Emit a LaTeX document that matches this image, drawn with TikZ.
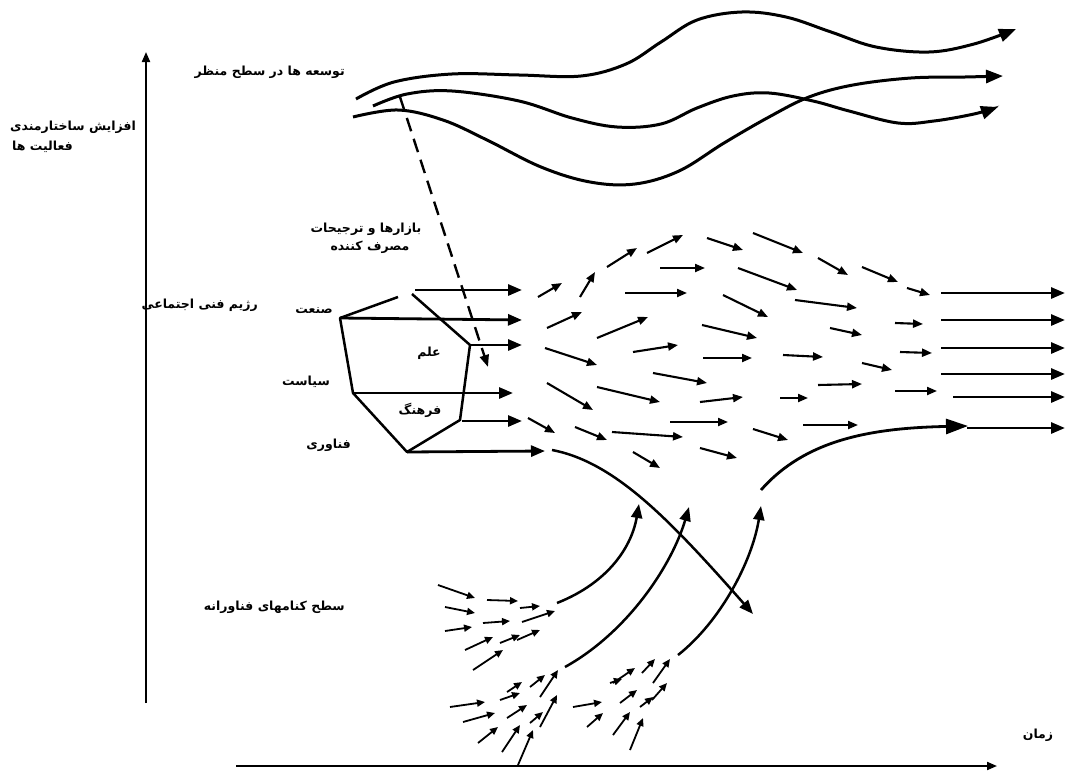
\documentclass[tikz,border=0pt]{standalone}
\usepackage{fontspec}
\usetikzlibrary{arrows.meta}
\newfontfamily\persian[Script=Arabic]{DejaVu Sans}
\TeXXeTstate=1
\begin{document}
\begin{tikzpicture}[x=1pt,y=-1pt,
 lbl/.style={font=\persian\bfseries\fontsize{12.5}{14}\selectfont, inner sep=0pt},
 axisarrow/.style={line width=2pt,-{Triangle[length=10pt,width=8pt]}},
 land/.style={line width=3pt,-{Triangle[length=17pt,width=13pt]}},
 reg/.style={line width=2.8pt,-{Triangle[length=14pt,width=11pt]}},
 fld/.style={line width=2.1pt,-{Triangle[length=10pt,width=8pt]}},
 nich/.style={line width=1.8pt,-{Triangle[length=8pt,width=7pt]}},
 ncurve/.style={line width=2.5pt,-{Triangle[length=14pt,width=11pt]}},
 poly/.style={line width=2.5pt, line join=round}]
\useasboundingbox (0,0) rectangle (1067,776);
% axes
\coordinate (va) at (146,703); \coordinate (vb) at (146,52);
\draw[axisarrow] (va) -- (vb);
\coordinate (ha) at (236,766); \coordinate (hb) at (997,766);
\draw[axisarrow] (ha) -- (hb);
% labels
\node[lbl,anchor=east] (tland) at (345,72) {\beginR توسعه ها در سطح منظر\endR};
\node[lbl,anchor=west] (tstr1) at (10,127) {\beginR افزایش ساختارمندی\endR};
\node[lbl,anchor=west] (tstr2) at (12,147) {\beginR فعالیت ها\endR};
\node[lbl] (tmar1) at (366,229) {\beginR بازارها و ترجیحات\endR};
\node[lbl] (tmar2) at (370,247) {\beginR مصرف کننده\endR};
\node[lbl,anchor=east] (treg) at (258,305) {\beginR رژیم فنی اجتماعی\endR};
\node[lbl,anchor=east] (tind) at (333,311) {\beginR صنعت\endR};
\node[lbl] (tsci) at (429,353) {\beginR علم\endR};
\node[lbl,anchor=east] (tpol) at (330,382) {\beginR سیاست\endR};
\node[lbl] (tcul) at (420,410) {\beginR فرهنگ\endR};
\node[lbl,anchor=east] (ttech) at (351,445) {\beginR فناوری\endR};
\node[lbl,anchor=east] (tniche) at (345,607) {\beginR سطح کنامهای فناورانه\endR};
\node[lbl] (ttime) at (1038,735) {\beginR زمان\endR};
% landscape curves
\draw[land] plot[smooth,tension=0.6] coordinates {(356,99) (394,82) (452,74) (519,75) (581,76) (626,64) (661,42) (697,20) (742,12) (786,17) (831,32) (876,47) (929,52) (974,44) (1016,29)};
\draw[land] plot[smooth,tension=0.6] coordinates {(373,106) (407,94) (452,91) (519,101) (572,118) (617,127) (661,124) (697,108) (733,96) (769,93) (813,101) (849,111) (898,123) (934,121) (974,114) (998,107)};
\draw[land] plot[smooth,tension=0.6] coordinates {(353,117) (398,110) (443,120) (487,140) (541,167) (590,182) (635,184) (679,171) (724,143) (769,117) (809,97) (853,85) (911,78) (965,77) (1003,76)};
% dashed influence
\coordinate (da) at (400,97); \coordinate (db) at (488,367);
\draw[line width=2.4pt,dash pattern=on 14pt off 8pt,-{Triangle[length=12pt,width=9pt]}] (da) -- (db);
% regime polygon
\coordinate (p1) at (340,318); \coordinate (p2) at (353,393); \coordinate (p3) at (407,452);
\coordinate (p4) at (460,420); \coordinate (p5) at (470,345); \coordinate (p6) at (412,294);
\coordinate (p7) at (398,297);
\draw[poly] (p7) -- (p1) -- (p2) -- (p3) -- (p4) -- (p5) -- (p6);
% regime arrows
\draw[reg] (415,290) -- (522,290);
\draw[reg] (p1) -- (522,320);
\draw[reg] (p5) -- (522,345);
\draw[reg] (p2) -- (513,393);
\draw[reg] (p4) ++(2,1) -- (522,421);
\draw[reg] (p3) -- (545,451);
% field arrows
\foreach \a/\b/\c/\d in {538/297/562/283, 580/297/595/272, 607/267/637/248, 647/253/683/235,
 660/268/705/268, 625/293/687/293, 547/328/582/312, 597/338/648/317, 633/352/678/345,
 545/348/597/365, 653/373/707/383, 547/383/593/410, 597/387/660/402, 528/418/555/433,
 575/427/607/440, 612/432/683/437, 633/452/660/468, 670/422/728/422, 703/358/752/358,
 707/238/743/250, 753/233/803/253, 738/268/797/290, 818/258/848/275, 862/267/898/282,
 907/288/930/295, 723/295/768/317, 795/300/857/308, 702/325/757/338, 830/328/862/335,
 895/323/923/324, 783/355/823/357, 862/363/892/370, 900/352/932/353, 700/402/743/397,
 780/398/808/398, 818/385/862/384, 895/391/937/391, 753/429/788/440, 803/425/858/425,
 700/448/737/458}
 \draw[fld] (\a,\b) -- (\c,\d);
% right parallel arrows
\foreach \a/\b in {941/293, 941/320, 941/348, 941/374, 953/397, 967/428}
 \draw[reg] (\a,\b) -- (1065,\b);
% big curve niche -> regime
\coordinate (bc1) at (761,490); \coordinate (bc2) at (968,426);
\draw[line width=2.8pt,-{Triangle[length=22pt,width=15pt]}] (bc1) .. controls (805,440) and (870,428) .. (bc2);
% regime -> niche curve
\coordinate (rn1) at (552,450); \coordinate (rn2) at (753,614);
\draw[ncurve] (rn1) .. controls (615,462) and (670,520) .. (rn2);
% niche curves upwards
\coordinate (n1a) at (557,603); \coordinate (n1b) at (639,504);
\draw[ncurve] (n1a) .. controls (610,582) and (632,545) .. (n1b);
\coordinate (n2a) at (565,667); \coordinate (n2b) at (689,507);
\draw[ncurve] (n2a) .. controls (628,632) and (672,565) .. (n2b);
\coordinate (n3a) at (678,655); \coordinate (n3b) at (761,506);
\draw[ncurve] (n3a) .. controls (720,622) and (752,562) .. (n3b);
% niche small arrows
\foreach \a/\b/\c/\d in {438/585/475/598, 445/607/475/613, 445/631/472/627, 487/600/518/601,
 483/623/510/621, 520/608/540/606, 522/622/555/611, 465/650/493/637, 500/643/520/635,
 517/640/540/630, 473/670/503/650,
 507/692/522/682, 530/687/545/675, 540/697/558/670, 500/700/520/693, 450/707/485/702,
 463/722/495/713, 507/718/527/705, 530/723/543/712, 540/727/557/695, 478/743/498/727,
 502/752/520/725, 518/765/533/730,
 613/683/635/668, 642/673/655/659, 653/683/670/659, 620/703/637/690, 640/707/653/697,
 652/700/667/683, 613/735/630/712, 630/750/643/718, 587/727/603/713, 610/683/622/679,
 573/707/602/702}
 \draw[nich] (\a,\b) -- (\c,\d);
\end{tikzpicture}
\end{document}
